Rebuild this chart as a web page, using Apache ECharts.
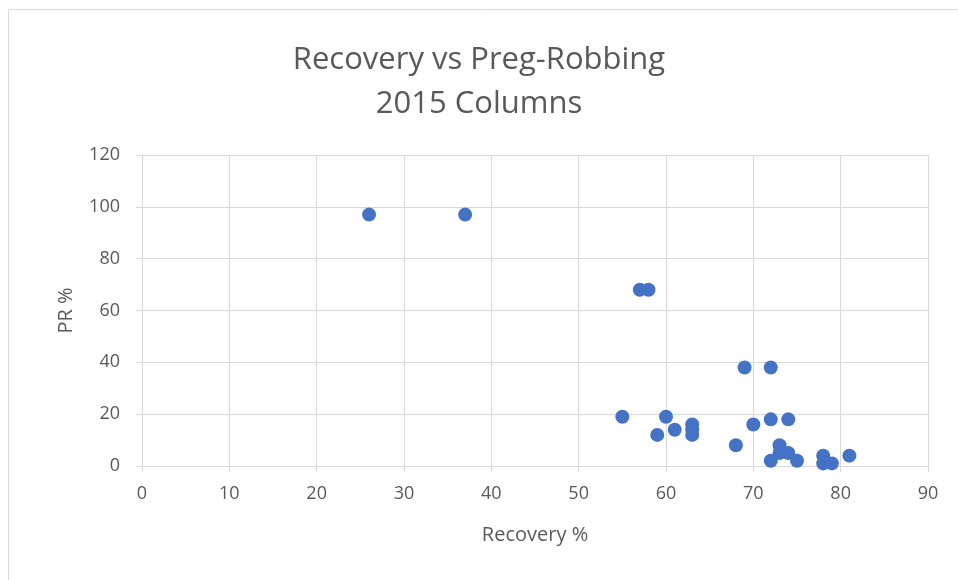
<!DOCTYPE html>
<html>
<head>
<meta charset="utf-8">
<script src="https://cdn.jsdelivr.net/npm/echarts@6/dist/echarts.min.js"></script>
<style>
  html, body { margin: 0; padding: 0; background: #fff; }
  #chart { width: 958px; height: 580px; }
</style>
</head>
<body>
<div id="chart"></div>
<script>
// recovery % (x) and preg-robbing % (y)
const recovery = [26, 37, 57, 58, 55, 60, 59, 61, 63, 63, 63, 69, 72, 70, 72, 74, 68, 73, 73, 74, 72, 75, 78, 78, 79, 81];
const pregRobbing = [97, 97, 68, 68, 19, 19, 12, 14, 16, 14, 12, 38, 38, 16, 18, 18, 8, 8, 5, 5, 2, 2, 4, 1, 1, 4];

const xTicks = { min: 0, max: 90, interval: 10 };
const yTicks = { min: 0, max: 120, interval: 20 };

const points = recovery.map((r, i) => [r, pregRobbing[i]]);

const myChart = echarts.init(document.getElementById('chart'));

const gray = '#595959';
const gridGray = '#d9d9d9';

const option = {
  backgroundColor: '#fff',
  animation: false,
  title: {
    text: 'Recovery vs Preg-Robbing\n2015 Columns',
    left: 'center',
    top: 33,
    textStyle: {
      fontFamily: 'Open Sans',
      fontSize: 31,
      fontWeight: 'normal',
      color: gray,
      lineHeight: 44
    }
  },
  graphic: [
    {
      type: 'rect',
      shape: { x: 8.5, y: 9.5, width: 1000, height: 1000 },
      style: { fill: 'none', stroke: gridGray, lineWidth: 1 },
      silent: true
    }
  ],
  grid: {
    left: 142,
    right: 30,
    top: 155,
    bottom: 114
  },
  xAxis: {
    type: 'value',
    min: xTicks.min,
    max: xTicks.max,
    interval: xTicks.interval,
    name: 'Recovery %',
    nameLocation: 'middle',
    nameGap: 59,
    nameTextStyle: { fontFamily: 'Open Sans', fontSize: 20, color: gray },
    axisLine: { show: true, lineStyle: { color: gridGray, width: 1 } },
    axisTick: { show: true, length: 6, lineStyle: { color: gridGray } },
    axisLabel: { margin: 19, fontFamily: 'Open Sans', fontSize: 18, color: gray },
    splitLine: { show: true, lineStyle: { color: gridGray, width: 1 } }
  },
  yAxis: {
    type: 'value',
    min: yTicks.min,
    max: yTicks.max,
    interval: yTicks.interval,
    name: 'PR %',
    nameLocation: 'middle',
    nameRotate: 90,
    nameGap: 66,
    nameTextStyle: { fontFamily: 'Open Sans', fontSize: 20, color: gray },
    axisLine: { show: true, lineStyle: { color: gridGray, width: 1 } },
    axisTick: { show: true, length: 6, lineStyle: { color: gridGray } },
    axisLabel: { margin: 22, fontFamily: 'Open Sans', fontSize: 18, color: gray },
    splitLine: { show: true, lineStyle: { color: gridGray, width: 1 } }
  },
  series: [
    {
      type: 'scatter',
      data: points,
      symbol: 'circle',
      symbolSize: 14,
      itemStyle: { color: '#4472C4', opacity: 1 }
    }
  ]
};

myChart.setOption(option);
</script>
</body>
</html>
